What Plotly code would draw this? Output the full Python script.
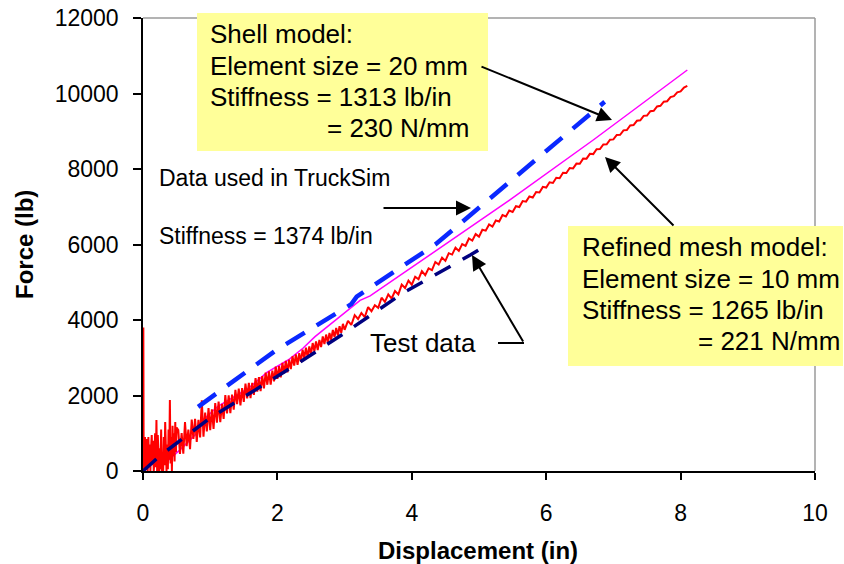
import plotly.graph_objects as go

# ---------------- data ----------------
# Refined mesh model (noisy FE result)
refined_x = [0.0, 0.005, 0.01, 0.02, 0.03, 0.04, 0.05, 0.06, 0.07, 0.08, 0.09, 0.10, 0.11, 0.12, 0.13,
             0.14, 0.15, 0.16, 0.17, 0.18, 0.19, 0.20, 0.21, 0.22, 0.23, 0.24, 0.25, 0.26, 0.27, 0.28,
             0.29, 0.30, 0.31, 0.32, 0.33, 0.34, 0.35, 0.36, 0.37, 0.38, 0.39, 0.40, 0.41, 0.42, 0.43,
             0.44, 0.45, 0.46, 0.47, 0.48, 0.49, 0.50,
             0.525, 0.550, 0.575, 0.600, 0.625, 0.650, 0.675, 0.700, 0.725, 0.750, 0.775, 0.800,
             0.825, 0.850, 0.875, 0.900, 0.925, 0.950, 0.975, 1.000, 1.025, 1.050, 1.075, 1.100,
             1.125, 1.150, 1.175, 1.200, 1.225, 1.250, 1.275, 1.300, 1.325, 1.350, 1.375, 1.400,
             1.425, 1.450, 1.475, 1.500, 1.525, 1.550, 1.575, 1.600, 1.625, 1.650, 1.675, 1.700,
             1.725, 1.750, 1.775, 1.800, 1.825, 1.850, 1.875, 1.900, 1.925, 1.950, 1.975, 2.000,
             2.025, 2.050, 2.075, 2.100, 2.125, 2.150, 2.175, 2.200, 2.225, 2.250, 2.275, 2.300,
             2.325, 2.350, 2.375, 2.400, 2.425, 2.450, 2.475, 2.500, 2.525, 2.550, 2.575, 2.600,
             2.625, 2.650, 2.675, 2.700, 2.725, 2.750, 2.775, 2.800, 2.825, 2.850, 2.875, 2.900,
             2.925, 2.950, 2.975, 3.000,
             3.05, 3.10, 3.15, 3.20, 3.25, 3.30, 3.35, 3.40, 3.45, 3.50, 3.55, 3.60, 3.65, 3.70,
             3.75, 3.80, 3.85, 3.90, 3.95, 4.00, 4.05, 4.10, 4.15, 4.20, 4.25, 4.30, 4.35, 4.40,
             4.45, 4.50, 4.55, 4.60, 4.65, 4.70, 4.75, 4.80, 4.85, 4.90, 4.95, 5.00, 5.05, 5.10,
             5.15, 5.20, 5.25, 5.30, 5.35, 5.40, 5.45, 5.50, 5.55, 5.60, 5.65, 5.70, 5.75, 5.80,
             5.85, 5.90, 5.95, 6.00, 6.05, 6.10, 6.15, 6.20, 6.25, 6.30, 6.35, 6.40, 6.45, 6.50,
             6.55, 6.60, 6.65, 6.70, 6.75, 6.80, 6.85, 6.90, 6.95, 7.00, 7.05, 7.10, 7.15, 7.20,
             7.25, 7.30, 7.35, 7.40, 7.45, 7.50, 7.55, 7.60, 7.65, 7.70, 7.75, 7.80, 7.85, 7.90,
             7.95, 8.00, 8.05, 8.10]
refined_y = [0, 3800, 0, 250, 900, 50, 850, 200, 0, 900, 100, 700, 0, 600, 950,
             150, 800, 0, 300, 1000, 100, 1350, 0, 950, 200, 0, 600, 50, 1100, 0,
             280, 0, 900, 150, 1300, 250, 0, 700, 50, 1100, 300, 1880, 200, 900, 0,
             1200, 400, 1000, 250, 1300, 500, 1150,
             1085, 450, 1005, 460, 1295, 660, 1095, 580, 1365, 850, 1385, 770,
             1355, 890, 1875, 910, 1545, 1050, 1665, 1080, 1632, 1115, 1797, 1280,
             1842, 1295, 1777, 1380, 2012, 1525, 2007, 1530, 2022, 1625, 2147, 1770,
             2182, 1735, 2197, 1830, 2317, 1925, 2332, 1930, 2337, 2015, 2462, 2100,
             2487, 2115, 2512, 2190, 2607, 2285, 2642, 2290, 2657, 2375, 2762, 2440,
             2781, 2482, 2863, 2584, 2915, 2616, 2947, 2698, 3039, 2790, 3091, 2812,
             3123, 2894, 3215, 2986, 3267, 3008, 3299, 3090, 3390, 3171, 3431, 3202,
             3472, 3283, 3563, 3364, 3614, 3395, 3655, 3476, 3736, 3547, 3787, 3588,
             3838, 3659, 3899, 3740,
             3979, 3868, 4128, 4027, 4186, 4075, 4344, 4234, 4393, 4322, 4591, 4480, 4680, 4569,
             4768, 4677, 4936, 4846, 5045, 4934, 5147, 5080, 5294, 5187, 5370, 5323, 5537, 5470,
             5653, 5566, 5770, 5733, 5916, 5830, 6013, 5966, 6159, 6103, 6276, 6209, 6392, 6366,
             6529, 6472, 6635, 6609, 6782, 6745, 6898, 6862, 7015, 6993, 7151, 7135, 7273, 7246,
             7389, 7378, 7526, 7509, 7647, 7631, 7769, 7757, 7900, 7894, 8027, 8015, 8143, 8137,
             8275, 8273, 8401, 8395, 8523, 8526, 8649, 8653, 8776, 8784, 8902, 8906, 9024, 9032,
             9155, 9164, 9277, 9290, 9408, 9417, 9530, 9543, 9656, 9675, 9783, 9796, 9904, 9928,
             10031, 10054, 10157, 10200]

# Shell model
shell_x = [0.20, 0.55, 0.80, 0.88, 1.12, 1.56, 1.85, 2.16, 2.38, 2.56, 3.23, 3.38, 4.02, 4.52, 5.21,
           5.46, 6.70, 8.10]
shell_y = [0, 560, 1000, 1330, 1720, 2180, 2620, 2940, 3250, 3560, 4520, 4640, 5420, 6030, 6861,
           7180, 8768, 10623]

# Data used in TruckSim
truck_x = [0.82, 1.98, 3.10, 3.18, 4.35, 4.55, 4.72, 6.87]
truck_y = [1700, 3200, 4420, 4620, 6000, 6300, 6570, 9780]

# Test data
test_x = [0, 0.05, 0.25, 1.0, 2.34, 3.0, 3.87, 4.87, 5.12]
test_y = [0, 80, 400, 1404, 2890, 3656, 4715, 5722, 5990]

x_ticks = [0, 2, 4, 6, 8, 10]
y_ticks = [0, 2000, 4000, 6000, 8000, 10000, 12000]

# ---------------- figure ----------------
FONT = "Arial, 'Liberation Sans', sans-serif"
W, H = 844, 564
L, R, T, B = 143, 815, 18, 471


def pxx(xp):
    return (xp - L) / (R - L)


def pxy(yp):
    return (B - yp) / (B - T)


fig = go.Figure()
fig.add_trace(go.Scatter(x=shell_x, y=shell_y, mode="lines",
                         line=dict(color="#ff00ff", width=1.5), name="Shell model"))
fig.add_trace(go.Scatter(x=refined_x, y=refined_y, mode="lines",
                         line=dict(color="#ff0000", width=2), name="Refined mesh model"))
fig.add_trace(go.Scatter(x=test_x, y=test_y, mode="lines",
                         line=dict(color="#000080", width=3.5, dash="18px,14px"), name="Test data"))
fig.add_trace(go.Scatter(x=truck_x, y=truck_y, mode="lines",
                         line=dict(color="#0a28ff", width=4.5, dash="22px,14px"), name="TruckSim"))

shapes = []
# grey frame top and right
shapes.append(dict(type="line", xref="paper", yref="paper", x0=0, x1=1, y0=1, y1=1,
                   line=dict(color="#9a9a9a", width=1.5)))
shapes.append(dict(type="line", xref="paper", yref="paper", x0=1, x1=1, y0=0, y1=1,
                   line=dict(color="#9a9a9a", width=1.5)))
# yellow boxes
shapes.append(dict(type="rect", xref="paper", yref="paper", x0=pxx(197), x1=pxx(488),
                   y0=pxy(151), y1=pxy(13), fillcolor="#ffff99", line=dict(width=0), layer="above"))
shapes.append(dict(type="rect", xref="paper", yref="paper", x0=pxx(568), x1=pxx(843),
                   y0=pxy(366), y1=pxy(226), fillcolor="#ffff99", line=dict(width=0), layer="above"))
# short line after "Test data"
shapes.append(dict(type="line", xref="paper", yref="paper", x0=pxx(498), x1=pxx(524),
                   y0=pxy(343), y1=pxy(343), line=dict(color="black", width=2)))

annotations = []
texts = [
    ("Shell model:", 208, 34, 26), ("Element size = 20 mm", 208, 66, 26),
    ("Stiffness = 1313 lb/in", 208, 97, 26), ("= 230 N/mm", 325, 128, 26),
    ("Refined mesh model:", 580, 247, 26), ("Element size = 10 mm", 580, 279, 26),
    ("Stiffness = 1265 lb/in", 580, 310, 26), ("= 221 N/mm", 696, 341, 26),
    ("Data used in TruckSim", 157, 178, 23), ("Stiffness = 1374 lb/in", 157, 236, 23),
    ("Test data", 368, 343, 26),
]
for t, xp, yp, fs in texts:
    annotations.append(dict(text=t, xref="paper", yref="paper", x=pxx(xp), y=pxy(yp),
                            xanchor="left", yanchor="middle", showarrow=False,
                            font=dict(family=FONT, size=fs, color="black")))

arrows = [
    (612, 120, 480, 66),
    (471, 208, 382, 208),
    (472, 255, 524, 343),
    (605, 157, 675, 227),
]
for hx, hy, tx, ty in arrows:
    annotations.append(dict(text="", xref="paper", yref="paper", x=pxx(hx), y=pxy(hy),
                            ax=tx - hx, ay=ty - hy, showarrow=True, arrowhead=2,
                            arrowsize=1.5, arrowwidth=2, arrowcolor="black", standoff=0))

# axis titles
annotations.append(dict(text="<b>Force (lb)</b>", xref="paper", yref="paper", x=pxx(24), y=pxy(245),
                        textangle=-90, showarrow=False, xanchor="center", yanchor="middle",
                        font=dict(family=FONT, size=24, color="black")))
annotations.append(dict(text="<b>Displacement (in)</b>", xref="paper", yref="paper", x=pxx(478),
                        y=pxy(550), showarrow=False, xanchor="center", yanchor="middle",
                        font=dict(family=FONT, size=24, color="black")))

fig.update_layout(
    width=W, height=H,
    margin=dict(l=L, r=W - R, t=T, b=H - B, autoexpand=False),
    plot_bgcolor="white", paper_bgcolor="white",
    showlegend=False,
    shapes=shapes, annotations=annotations,
    font=dict(family=FONT, color="black"),
)
fig.update_xaxes(range=[0, 10], tickvals=x_ticks, ticktext=[str(v) for v in x_ticks],
                 showgrid=False, zeroline=False, showline=True, linecolor="black", linewidth=1.5,
                 ticks="outside", ticklen=7, tickwidth=1.5, tickcolor="black",
                 tickfont=dict(family=FONT, size=23, color="black"), ticklabelstandoff=14)
fig.update_yaxes(range=[0, 12000], tickvals=y_ticks, ticktext=[str(v) for v in y_ticks],
                 showgrid=False, zeroline=False, showline=True, linecolor="black", linewidth=1.5,
                 ticks="outside", ticklen=8, tickwidth=1.5, tickcolor="black",
                 tickfont=dict(family=FONT, size=23, color="black"), ticklabelstandoff=10)

fig.write_html("out.html", config={"displayModeBar": False},
               post_script="document.body.style.margin='0px';document.body.style.overflow='hidden';")
